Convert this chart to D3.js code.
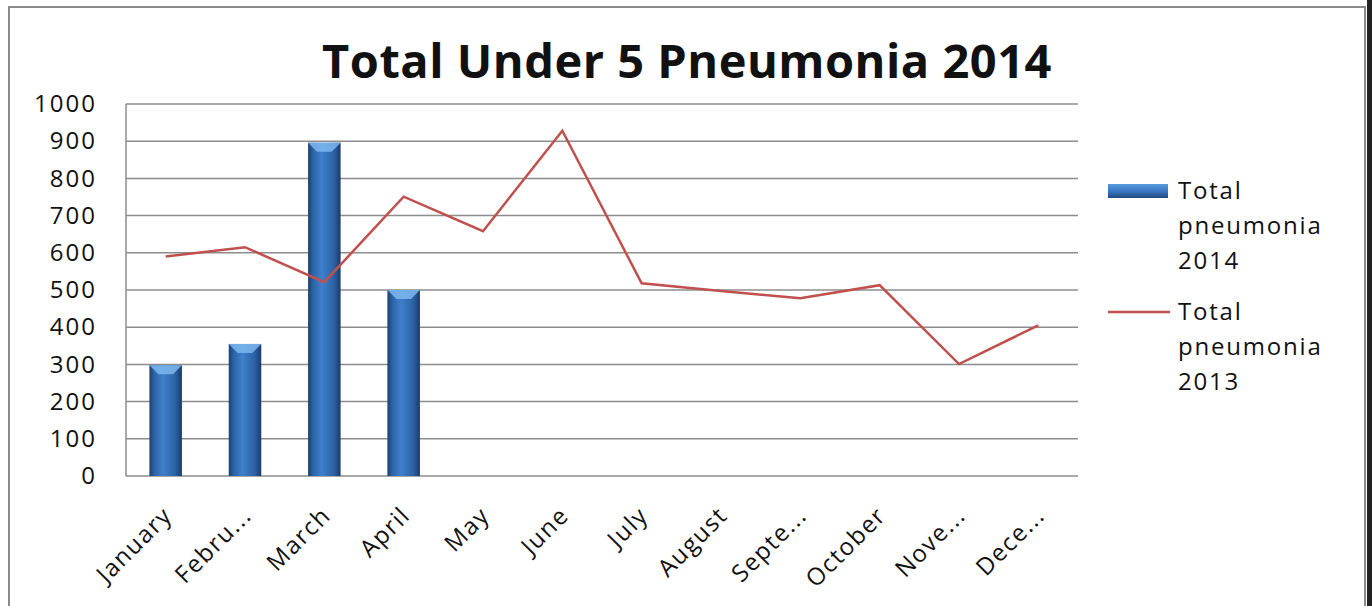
<!DOCTYPE html>
<html>
<head>
<meta charset="utf-8">
<script src="https://cdn.jsdelivr.net/npm/d3@7"></script>
<style>
  body { margin: 0; background: #fff; }
  text { font-family: "Open Sans", "Noto Sans", sans-serif; fill: #111; }
</style>
</head>
<body>
<script>
var months = ["January", "Febru...", "March", "April", "May", "June",
              "July", "August", "Septe...", "October", "Nove...", "Dece..."];
var pneumonia2014 = [298, 355, 896, 500, null, null, null, null, null, null, null, null];
var pneumonia2013 = [590, 615, 521, 751, 658, 928, 518, 497, 478, 513, 301, 405];
var yTicks = [0, 100, 200, 300, 400, 500, 600, 700, 800, 900, 1000];
var seriesNames = [["Total", "pneumonia", "2014"], ["Total", "pneumonia", "2013"]];

var width = 1372, height = 606;
var plot = {left: 126, right: 1078, top: 104, bottom: 476};

var svg = d3.select("body").append("svg")
    .attr("width", width)
    .attr("height", height);

var defs = svg.append("defs");
var grad = defs.append("linearGradient")
    .attr("id", "barGrad")
    .attr("x1", "0%").attr("x2", "100%").attr("y1", "0%").attr("y2", "0%");
grad.append("stop").attr("offset", "0%").attr("stop-color", "#1c3f6e");
grad.append("stop").attr("offset", "15%").attr("stop-color", "#2c63a6");
grad.append("stop").attr("offset", "42%").attr("stop-color", "#3f80cb");
grad.append("stop").attr("offset", "80%").attr("stop-color", "#2b61a3");
grad.append("stop").attr("offset", "100%").attr("stop-color", "#1a3b68");

var lgrad = defs.append("linearGradient")
    .attr("id", "legGrad")
    .attr("x1", "0%").attr("x2", "0%").attr("y1", "0%").attr("y2", "100%");
lgrad.append("stop").attr("offset", "0%").attr("stop-color", "#5a9ce0");
lgrad.append("stop").attr("offset", "50%").attr("stop-color", "#3a78c2");
lgrad.append("stop").attr("offset", "100%").attr("stop-color", "#1f4a80");

// outer frame
svg.append("rect")
    .attr("x", 9).attr("y", 7)
    .attr("width", 1356).attr("height", 640)
    .attr("fill", "none")
    .attr("stroke", "#8a8a8a")
    .attr("stroke-width", 2);
svg.append("rect")
    .attr("x", 1367).attr("y", 0)
    .attr("width", 5).attr("height", height)
    .attr("fill", "#222");

var x = d3.scaleBand()
    .domain(months)
    .range([plot.left, plot.right])
    .paddingInner(0.59)
    .paddingOuter(0.295);

var y = d3.scaleLinear()
    .domain([0, 1000])
    .range([plot.bottom, plot.top]);

// gridlines
svg.append("g")
    .selectAll("line")
    .data(yTicks)
    .enter().append("line")
    .attr("x1", plot.left).attr("x2", plot.right)
    .attr("y1", function(d) { return y(d); })
    .attr("y2", function(d) { return y(d); })
    .attr("stroke", "#8c8c8c")
    .attr("stroke-width", 1.5);

svg.append("line")
    .attr("x1", plot.left).attr("x2", plot.left)
    .attr("y1", plot.top).attr("y2", plot.bottom)
    .attr("stroke", "#8c8c8c").attr("stroke-width", 1.5);

// y axis labels
var yAxis = d3.axisLeft(y).tickValues(yTicks).tickSize(0).tickPadding(29)
    .tickFormat(d3.format("d"));
var gy = svg.append("g")
    .attr("transform", "translate(" + plot.left + ",0)")
    .call(yAxis);
gy.select(".domain").remove();
gy.selectAll("text")
    .style("font-size", "24px")
    .style("letter-spacing", "2px")
    .attr("fill", "#111");

// bars
var bars = svg.append("g")
    .selectAll("g")
    .data(months.map(function(m, i) { return {month: m, value: pneumonia2014[i]}; })
      .filter(function(d) { return d.value != null; }))
    .enter().append("g");

bars.append("rect")
    .attr("x", function(d) { return x(d.month); })
    .attr("y", function(d) { return y(d.value); })
    .attr("width", x.bandwidth())
    .attr("height", function(d) { return y(0) - y(d.value); })
    .attr("fill", "url(#barGrad)");

bars.append("path")
    .attr("d", function(d) {
      var x0 = x(d.month), w = x.bandwidth(), t = y(d.value);
      return "M" + x0 + "," + t + "L" + (x0 + w) + "," + t +
             "L" + (x0 + w - 9) + "," + (t + 9) + "L" + (x0 + 9) + "," + (t + 9) + "Z";
    })
    .attr("fill", "#7db7f0")
    .attr("opacity", 0.85);

// line 2013
var line = d3.line()
    .x(function(d, i) { return x(months[i]) + x.bandwidth() / 2; })
    .y(function(d) { return y(d); });

svg.append("path")
    .datum(pneumonia2013)
    .attr("d", line)
    .attr("fill", "none")
    .attr("stroke", "#c0504d")
    .attr("stroke-width", 2.5)
    .attr("stroke-linejoin", "miter");

// x labels
svg.append("g")
    .selectAll("text")
    .data(months)
    .enter().append("text")
    .attr("transform", function(d) {
      return "translate(" + (x(d) + x.bandwidth() / 2 + 2) + "," + (plot.bottom + 35) + ") rotate(-45)";
    })
    .attr("text-anchor", "end")
    .attr("dy", "0.35em")
    .style("font-size", "24px")
    .style("letter-spacing", "1.5px")
    .text(function(d) { return d; });

// title
svg.append("text")
    .attr("x", 687)
    .attr("y", 78)
    .attr("text-anchor", "middle")
    .style("font-size", "47px")
    .style("font-weight", "bold")
    .style("letter-spacing", "0.5px")
    .text("Total Under 5 Pneumonia 2014");

// legend
var legend = svg.append("g");
legend.append("rect")
    .attr("x", 1108).attr("y", 184)
    .attr("width", 60).attr("height", 14)
    .attr("fill", "url(#legGrad)");
legend.append("line")
    .attr("x1", 1108).attr("x2", 1170)
    .attr("y1", 312).attr("y2", 312)
    .attr("stroke", "#c0504d")
    .attr("stroke-width", 2.5);

var legendTop = [191, 312];
seriesNames.forEach(function(lines, k) {
  legend.selectAll(null)
      .data(lines)
      .enter().append("text")
      .attr("x", 1178)
      .attr("y", function(d, i) { return legendTop[k] + i * 35; })
      .attr("dy", "0.35em")
      .style("font-size", "24px")
      .style("letter-spacing", "1.8px")
      .text(function(d) { return d; });
});
</script>
</body>
</html>
